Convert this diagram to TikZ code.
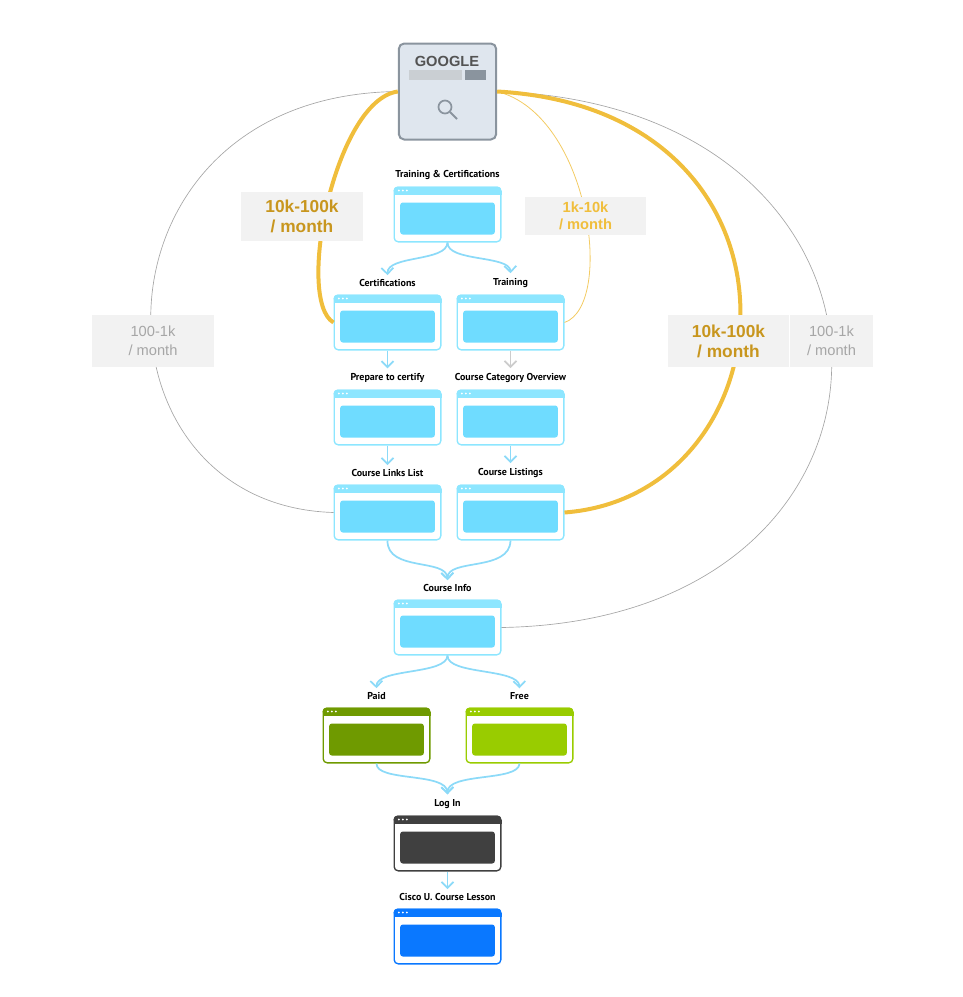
\documentclass[tikz,border=0pt]{standalone}
\usepackage{fontspec}
\setmainfont{Liberation Sans}
\newfontfamily\ttl{PT Sans}
\begin{document}
\begin{tikzpicture}[x=0.75pt,y=-0.75pt,
  conn/.style={draw=cyan!45!white,line width=1.3pt,-{Straight Barb[length=4.5pt,width=9pt]}},
  lbl/.style={fill=black!5,inner sep=0pt,minimum width=91pt,align=center,font=\bfseries\fontsize{13}{15}\selectfont},
  ttlf/.style={font=\ttl\bfseries\fontsize{7.5}{8}\selectfont}]
\usetikzlibrary{arrows.meta}
\useasboundingbox (0,0) rectangle (963,997);
\definecolor{pb}{HTML}{6FDCFF}\definecolor{pbd}{HTML}{8DE6FF}
\definecolor{dg}{HTML}{6F9A00}\definecolor{lg}{HTML}{99CC00}
\definecolor{dk}{HTML}{404040}\definecolor{bl}{HTML}{0A78FF}
\definecolor{yl}{HTML}{F0BE3C}\definecolor{ylt}{HTML}{C8961E}
\definecolor{gf}{HTML}{DFE6EE}\definecolor{gb}{HTML}{8A949E}
\newcommand\webpage[6]{%
 \node[draw=#5,line width=1pt,rounded corners=3pt,minimum width=80pt,minimum height=41pt,inner sep=0pt,fill=white] (#1) at (#2,#3) {};
 \fill[#5,rounded corners=3pt] (#1.north west) rectangle ([yshift=-6pt]#1.north east);
 \fill[#5] ([yshift=-3pt]#1.north west) rectangle ([yshift=-6pt]#1.north east);
 \foreach \d in {4,7,10} \fill[white] ([xshift=\d pt,yshift=-3pt]#1.north west) circle (0.8pt);
 \fill[#6,rounded corners=2pt] ([xshift=5pt,yshift=-12pt]#1.north west) rectangle ([xshift=-5pt,yshift=6pt]#1.south east);
 \node[ttlf,anchor=south] (#1t) at ([yshift=2pt]#1.north) {#4};}
% google
\node[draw=gb,fill=gf,line width=1.5pt,rounded corners=4pt,minimum width=73pt,minimum height=72pt] (g) at (447.5,91.5) {};
\node[font=\bfseries\fontsize{11}{12}\selectfont,text=dk!90] (gt) at (447,61) {GOOGLE};
\fill[gb!45] (409,70) rectangle (462,80); \fill[gb] (465,70) rectangle (486,80);
\draw[gb,line width=1.3pt] (445,107) circle (6.5); \draw[gb,line width=1.5pt] (450,112) -- (457,119);
% pages
\webpage{tc}{447.5}{214.5}{Training \& Certifications}{pbd}{pb}
\webpage{ce}{387.5}{322.5}{Certifications}{pbd}{pb}
\webpage{tr}{510.5}{322.5}{Training}{pbd}{pb}
\webpage{pr}{387.5}{417.5}{Prepare to certify}{pbd}{pb}
\webpage{cc}{510.5}{417.5}{Course Category Overview}{pbd}{pb}
\webpage{cl}{387.5}{512.5}{Course Links List}{pbd}{pb}
\webpage{cs}{510.5}{512.5}{Course Listings}{pbd}{pb}
\webpage{ci}{447.5}{627.5}{Course Info}{pbd}{pb}
\webpage{pa}{376.5}{735.5}{Paid}{dg}{dg}
\webpage{fr}{519.5}{735.5}{Free}{lg}{lg}
\webpage{li}{447.5}{843.5}{Log In}{dk}{dk}
\webpage{cu}{447.5}{936.5}{Cisco U. Course Lesson}{bl}{bl}
% flow connectors
\draw[conn] (tc.south) .. controls (447,262) and (387,255) .. (cet.north);
\draw[conn] (tc.south) .. controls (447,262) and (510,255) .. (trt.north);
\draw[conn] (ce.south) -- (prt.north);
\draw[conn,draw=gray!40] (tr.south) -- (cct.north);
\draw[conn] (pr.south) -- (clt.north);
\draw[conn] (cc.south) -- (cst.north);
\draw[conn] (cl.south) .. controls (387,572) and (447,558) .. (cit.north);
\draw[conn] (cs.south) .. controls (510,572) and (447,558) .. (cit.north);
\draw[conn] (ci.south) .. controls (447,675) and (376,668) .. (pat.north);
\draw[conn] (ci.south) .. controls (447,675) and (519,668) .. (frt.north);
\draw[conn] (pa.south) .. controls (376,782) and (447,772) .. (lit.north);
\draw[conn] (fr.south) .. controls (519,782) and (447,772) .. (lit.north);
\draw[conn] (li.south) -- (cut.north);
% google traffic
\draw[gray!70,line width=0.5pt] (g.west) .. controls (80,95) and (80,505) .. (cl.west);
\draw[gray!70,line width=0.5pt] (g.east) .. controls (940,105) and (945,620) .. (ci.east);
\draw[yl!80,line width=0.6pt] (g.east) .. controls (590,115) and (615,305) .. (tr.east);
\draw[yl,line width=3pt] (g.west) .. controls (335,100) and (295,300) .. (ce.west);
\draw[yl,line width=3pt] (g.east) .. controls (825,110) and (795,495) .. (cs.east);
% labels
\node[lbl,text=ylt,minimum height=37pt] (l1) at (302,216.5) {10k-100k\\/ month};
\node[lbl,text=yl,minimum height=28pt,font=\bfseries\fontsize{11}{13}\selectfont] (l2) at (585.5,216) {1k-10k\\/ month};
\node[lbl,text=gray!70,minimum height=39pt,font=\fontsize{11}{14}\selectfont] (l3) at (153,341) {100-1k\\/ month};
\node[lbl,text=ylt,minimum height=39pt] (l4) at (728.5,341) {10k-100k\\/ month};
\node[lbl,text=gray!70,minimum height=39pt,minimum width=62pt,font=\fontsize{11}{14}\selectfont] (l5) at (831.5,341) {100-1k\\/ month};
\end{tikzpicture}
\end{document}
